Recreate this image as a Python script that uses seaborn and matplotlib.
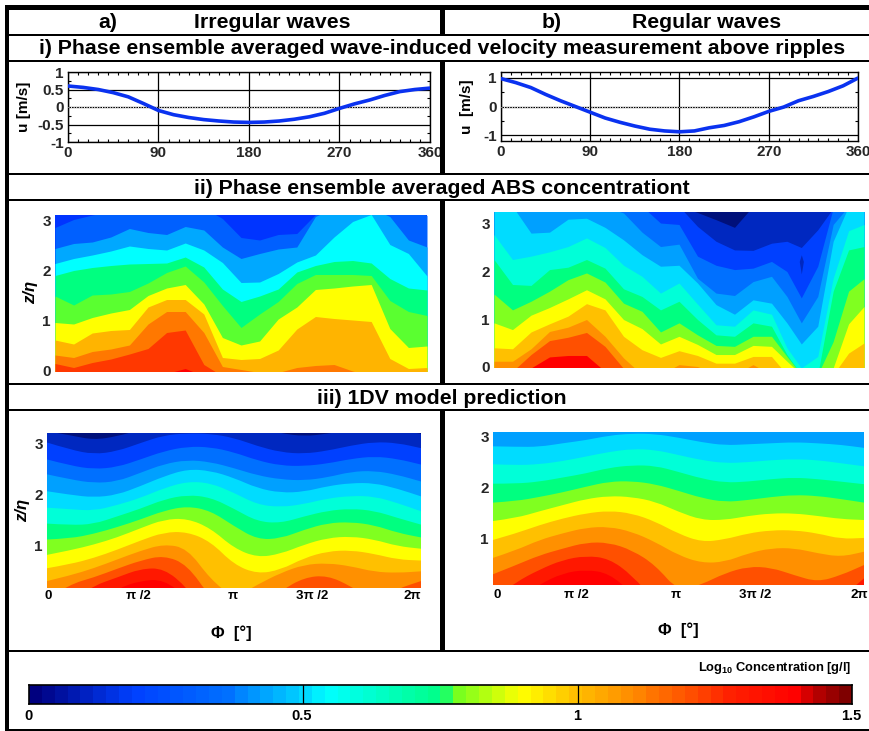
import numpy as np
import seaborn as sns
import matplotlib.pyplot as plt
from matplotlib.colors import LinearSegmentedColormap
from matplotlib.patches import PathPatch
from matplotlib.path import Path
from matplotlib.ticker import MultipleLocator

sns.set_theme(style='white')
plt.rcParams['font.family'] = ['Liberation Sans', 'DejaVu Sans']
plt.rcParams['font.weight'] = 'bold'
plt.rcParams['mathtext.fontset'] = 'custom'
plt.rcParams['mathtext.bf'] = 'Liberation Sans:bold'
plt.rcParams['mathtext.rm'] = 'Liberation Sans:bold'

# velocity above ripples
phase_u = [0, 15, 30, 45, 60, 75, 90, 105, 120, 135, 150, 165, 180, 195, 210, 225, 240, 255, 270, 285, 300, 315, 330, 345, 360]
u_irregular = [.6, .56, .5, .41, .29, .1, -.1, -.22, -.3, -.36, -.4, -.43, -.44, -.43, -.4, -.35, -.28, -.18, -.04, .09, .2, .33, .44, .5, .54]
u_regular = [.97, .83, .66, .42, .2, 0, -.2, -.4, -.55, -.68, -.79, -.85, -.88, -.85, -.74, -.66, -.53, -.36, -.17, -.02, .2, .35, .52, .72, .99]

# contour band colours, deep to near bed
band = ['#00107a', '#0028c0', '#0040ff', '#0070ff', '#00a0ff', '#00dcff', '#00ffd8', '#00ff80',
        '#80ff20', '#ffff00', '#ffc000', '#ff9000', '#ff5000', '#ff1800', '#ff0000']
band_abs_irr = ['#0060ff', '#00a8ff', '#00ffff', '#00ff80', '#5aff30', '#ffff00', '#ffb400', '#ff7800', '#ff3800', '#ff0000']

# ABS, irregular: z/eta of each contour along the phase
phase_abs_irr = [0, 18, 36, 54, 72, 90, 108, 126, 144, 162, 180, 198, 216, 234, 252, 270, 288, 306, 324, 342, 360]
abs_irr = [
    [2.87, 3.03, 3.12, 3.19, 3.26, 3.26, 3.26, 3.26, 3.26, 3.05, 2.67, 2.62, 2.73, 2.75, 3.13, 3.26, 3.26, 3.26, 3.26, 3.26, 3.11],
    [2.45, 2.55, 2.58, 2.68, 2.85, 2.77, 2.73, 2.89, 2.82, 2.48, 2.25, 2.35, 2.44, 2.48, 3.09, 3.26, 3.26, 3.26, 3.09, 2.62, 2.48],
    [2.15, 2.25, 2.32, 2.40, 2.50, 2.45, 2.42, 2.56, 2.42, 2.17, 1.77, 1.78, 1.95, 2.18, 2.32, 2.68, 2.99, 3.13, 2.53, 2.35, 1.90],
    [1.91, 2.01, 2.07, 2.11, 2.14, 2.15, 2.16, 2.28, 2.08, 1.64, 1.39, 1.50, 1.64, 1.98, 2.11, 2.19, 2.21, 2.16, 1.85, 1.66, 1.62],
    [1.50, 1.32, 1.52, 1.54, 1.59, 1.76, 1.97, 2.10, 1.78, 1.31, .87, 1.14, 1.39, 1.75, 1.93, 1.93, 1.93, 1.91, 1.41, 1.19, 1.11],
    [.97, .94, 1.07, 1.16, 1.23, 1.51, 1.66, 1.73, 1.34, .67, .52, .60, 1.04, 1.28, 1.63, 1.66, 1.70, 1.73, .85, .47, .50],
    [.62, .54, .76, .81, .83, 1.28, 1.43, 1.43, 1.14, .27, .23, .25, .42, .84, 1.09, 1.05, 1.02, .99, .25, .05, .07],
    [.32, .27, .39, .44, .52, .94, 1.19, 1.19, .77, .09, .03, -.03, -.03, .07, .11, .13, 0, -.1, -.1, -.1, -.1],
    [.15, .07, .17, .24, .34, .45, .77, .82, .13, -.1, -.1, -.1, -.1, -.1, -.1, -.1, -.1, -.1, -.1, -.1, -.1],
    [-.1, -.1, -.1, -.1, -.1, -.1, -.05, .05, -.1, -.1, -.1, -.1, -.1, -.1, -.1, -.1, -.1, -.1, -.1, -.1, -.1],
]

# ABS, regular
phase_abs_reg = [0, 18, 36, 54, 72, 90, 108, 126, 144, 162, 180, 198, 216, 234, 252, 270, 285, 299, 315, 330, 345, 360]
abs_reg = [
    [3.35, 3.35, 3.35, 3.35, 3.35, 3.35, 3.35, 3.35, 3.35, 3.35, 3.35, 3.22, 3.07, 2.91, 3.35, 3.35, 3.35, 3.35, 3.35, 3.35, 3.35, 3.35],
    [3.35, 3.35, 3.35, 3.35, 3.35, 3.35, 3.35, 3.35, 3.35, 3.35, 3.35, 2.93, 2.62, 2.44, 2.43, 2.58, 2.62, 2.49, 2.86, 3.31, 3.35, 3.35],
    [3.35, 3.35, 3.35, 3.35, 3.35, 3.35, 3.35, 3.35, 3.35, 3.0, 2.97, 2.31, 2.12, 2.03, 2.06, 2.20, 1.99, 1.44, 2.10, 3.31, 3.35, 3.35],
    [3.35, 3.35, 3.35, 3.35, 3.35, 3.35, 3.35, 3.21, 2.81, 2.51, 2.56, 1.85, 1.54, 1.49, 1.78, 1.89, 1.47, .92, 1.47, 2.97, 3.35, 3.35],
    [3.35, 3.35, 2.79, 2.81, 3.08, 3.10, 2.91, 2.65, 2.34, 2.10, 2.12, 1.75, 1.30, 1.10, 1.40, 1.33, .92, .48, .85, 2.62, 3.35, 3.35],
    [2.76, 2.24, 2.31, 2.40, 2.51, 2.69, 2.49, 2.12, 1.89, 1.54, 1.75, 1.31, .88, .85, 1.19, 1.10, .40, -.02, .22, 1.85, 2.84, 2.97],
    [2.24, 1.72, 1.70, 2.03, 2.08, 2.24, 2.06, 1.63, 1.47, 1.19, 1.37, .99, .67, .64, .92, .85, .26, -.16, -.16, 1.58, 2.44, 2.51],
    [1.52, 1.19, 1.37, 1.58, 1.82, 1.96, 1.77, 1.33, 1.16, .73, .92, .67, .45, .43, .64, .64, .22, -.16, -.16, .53, 1.58, 1.84],
    [.92, .78, 1.08, 1.24, 1.42, 1.61, 1.42, .99, .80, .48, .64, .47, .26, .26, .45, .43, .12, -.16, -.16, -.02, .90, 1.26],
    [.40, .38, .73, .90, 1.06, 1.32, 1.19, .64, .36, .20, .34, .24, .08, .08, .22, .22, -.16, -.16, -.16, -.16, .29, .50],
    [.12, .12, .38, .74, .83, .99, .64, .19, -.16, -.16, .05, .01, -.16, -.16, .05, -.16, -.16, -.16, -.16, -.16, -.16, -.16],
    [-.16, -.09, .26, .55, .62, .72, .43, -.03, -.16, -.16, -.16, -.16, -.16, -.16, -.16, -.16, -.16, -.16, -.16, -.16, -.16, -.16],
    [-.16, -.16, -.02, .21, .24, .24, -.09, -.16, -.16, -.16, -.16, -.16, -.16, -.16, -.16, -.16, -.16, -.16, -.16, -.16, -.16, -.16],
]
abs_reg_bands = band[1:13] + [band[14]]
sliver_phase = [297, 299, 301]
sliver_low = [2.2, 1.94, 2.2]
sliver_high = [2.2, 2.34, 2.2]

# 1DV model
phase_model = [0, 22.5, 45, 67.5, 90, 112.5, 135, 157.5, 180, 202.5, 225, 247.5, 270, 292.5, 315, 337.5, 360]
model_irr = [
    [3.23, 3.15, 3.06, 3.13, 3.26, 3.29, 3.29, 3.29, 3.29, 3.29, 3.19, 3.13, 3.18, 3.26, 3.29, 3.26, 3.18],
    [3.01, 2.87, 2.78, 2.84, 3.00, 3.15, 3.19, 3.18, 3.10, 2.94, 2.82, 2.79, 2.85, 2.95, 3.02, 3.00, 2.90],
    [2.68, 2.56, 2.49, 2.53, 2.68, 2.84, 2.93, 2.92, 2.82, 2.66, 2.56, 2.55, 2.60, 2.69, 2.74, 2.69, 2.58],
    [2.39, 2.29, 2.22, 2.25, 2.42, 2.59, 2.67, 2.63, 2.51, 2.37, 2.29, 2.27, 2.33, 2.44, 2.46, 2.38, 2.25],
    [2.06, 1.99, 1.94, 1.99, 2.16, 2.35, 2.49, 2.46, 2.32, 2.12, 2.03, 2.05, 2.16, 2.22, 2.22, 2.11, 1.96],
    [1.74, 1.71, 1.68, 1.79, 1.93, 2.12, 2.25, 2.22, 2.03, 1.80, 1.75, 1.81, 1.92, 1.97, 1.96, 1.83, 1.67],
    [1.43, 1.40, 1.42, 1.57, 1.72, 1.90, 1.99, 1.94, 1.72, 1.47, 1.44, 1.57, 1.68, 1.72, 1.68, 1.54, 1.41],
    [1.12, 1.14, 1.23, 1.36, 1.51, 1.68, 1.77, 1.68, 1.38, 1.12, 1.14, 1.31, 1.44, 1.46, 1.40, 1.25, 1.16],
    [.82, .91, 1.02, 1.16, 1.34, 1.51, 1.53, 1.34, .95, .77, .84, 1.02, 1.15, 1.18, 1.12, .99, .94],
    [.56, .64, .76, .92, 1.10, 1.26, 1.27, 1.08, .63, .45, .53, .76, .89, .91, .84, .73, .71],
    [.31, .42, .56, .73, .90, 1.03, .95, .34, -.02, .24, .47, .63, .66, .60, .49, .47, .50],
    [-.02, .25, .38, .55, .71, .81, .63, -.02, -.41, -.28, .12, .38, .42, .21, -.08, .16, .31],
    [-.41, -.08, .22, .38, .55, .56, .18, -.41, -.41, -.41, -.41, -.41, -.41, -.41, -.41, -.41, -.41],
    [-.41, -.41, -.15, .16, .32, .34, -.02, -.41, -.41, -.41, -.41, -.41, -.41, -.41, -.41, -.41, -.41],
]
model_reg = [
    [2.80, 2.79, 2.79, 2.86, 2.92, 3.01, 3.05, 3.04, 2.97, 2.88, 2.82, 2.84, 2.86, 2.88, 2.86, 2.83, 2.77],
    [2.45, 2.43, 2.45, 2.51, 2.60, 2.69, 2.75, 2.73, 2.63, 2.53, 2.47, 2.49, 2.53, 2.55, 2.53, 2.47, 2.41],
    [2.07, 2.07, 2.11, 2.19, 2.27, 2.38, 2.43, 2.42, 2.30, 2.17, 2.09, 2.11, 2.16, 2.19, 2.16, 2.11, 2.06],
    [1.70, 1.73, 1.81, 1.90, 2.01, 2.11, 2.12, 2.06, 1.93, 1.79, 1.71, 1.75, 1.81, 1.85, 1.83, 1.77, 1.70],
    [1.34, 1.40, 1.53, 1.65, 1.77, 1.83, 1.81, 1.72, 1.52, 1.36, 1.36, 1.44, 1.49, 1.49, 1.44, 1.38, 1.36],
    [.97, 1.10, 1.26, 1.39, 1.49, 1.54, 1.49, 1.33, 1.09, .93, .98, 1.10, 1.16, 1.16, 1.10, .99, 1.01],
    [.62, .77, .97, 1.10, 1.21, 1.23, 1.13, .93, .67, .52, .54, .71, .81, .81, .71, .64, .74],
    [.30, .48, .67, .80, .92, .92, .77, .48, -.04, .10, .32, .45, .43, .28, .15, .28, .48],
    [-.17, .15, .39, .58, .66, .61, .28, -.24, -.43, -.43, -.43, -.43, -.43, -.43, -.43, -.17, .22],
    [-.43, -.2, .10, .32, .39, .32, -.07, -.43, -.43, -.43, -.43, -.43, -.43, -.43, -.43, -.43, -.43],
]

# colour scale
scale_cells = np.linspace(0, 1.5, 64).reshape(1, -1)
scale_stops = [(0, '#00007f'), (.12, '#0040ff'), (.235, '#0070ff'), (.28, '#00a0ff'), (.32, '#00c8ff'), (.36, '#00ffff'),
               (.505, '#00ff80'), (.52, '#70ff20'), (.6, '#ffff00'), (.667, '#ffc000'), (.73, '#ff9000'),
               (.81, '#ff5000'), (.86, '#ff2000'), (.94, '#ff0000'), (.96, '#c00000'), (1, '#7f0000')]
scale_cmap = LinearSegmentedColormap.from_list('abs_scale', scale_stops)

W, H = 870, 731
fig = plt.figure(figsize=(W / 100, H / 100), dpi=100)


def box(x0, y0, x1, y1):
    return fig.add_axes([x0 / W, 1 - y1 / H, (x1 - x0) / W, (y1 - y0) / H])


def velocity(pos, u, ylim, yticks, yminor, ylabels):
    ax = box(*pos)
    sns.lineplot(x=phase_u, y=u, color='#0a32f0', lw=2.6, ax=ax, zorder=4)
    ax.set_xlim(0, 360)
    ax.set_ylim(*ylim)
    ax.set_xticks([0, 90, 180, 270, 360])
    ax.set_yticks(yticks)
    ax.set_yticklabels(ylabels)
    ax.xaxis.set_minor_locator(MultipleLocator(10))
    ax.yaxis.set_minor_locator(MultipleLocator(yminor))
    ax.grid(True, color='black', lw=0.9)
    ax.axhline(0, color='white', lw=0.7, ls=':', zorder=3)
    ax.tick_params(which='major', direction='in', length=0, labelsize=11, pad=3)
    ax.tick_params(which='minor', direction='in', length=2, width=0.8, color='black',
                   top=True, bottom=True, left=True, right=True)
    for s in ax.spines.values():
        s.set_color('black')
        s.set_linewidth(1.0)
    ax.set_xlabel('')
    ax.set_ylabel('')
    return ax


def setup_bands(pos, base, ylim, yticks):
    ax = box(*pos)
    ax.set_facecolor(base)
    ax.set_xlim(0, 360)
    ax.set_ylim(*ylim)
    ax.set_xticks([])
    ax.set_yticks(yticks)
    ax.tick_params(axis='y', length=0, labelsize=11, pad=3)
    sns.despine(ax=ax, left=True, bottom=True)
    return ax


def bands(pos, phases, lines, colors, base, ylim, yticks):
    ax = setup_bands(pos, base, ylim, yticks)
    for z, c in zip(lines, colors):
        ax.fill_between(phases, ylim[0] - 1, z, color=c, lw=0)
    return ax


def rounded_bands(pos, phases, lines, colors, base, ylim, yticks):
    # model contours are smooth, the read values act as curve control points
    ax = setup_bands(pos, base, ylim, yticks)
    floor = ylim[0] - 1
    for z, c in zip(lines, colors):
        verts = [(phases[0], floor), (phases[0], z[0])]
        codes = [Path.MOVETO, Path.LINETO]
        for i in range(1, len(phases) - 1):
            verts += [(phases[i], z[i]), ((phases[i] + phases[i + 1]) / 2, (z[i] + z[i + 1]) / 2)]
            codes += [Path.CURVE3, Path.CURVE3]
        verts += [(phases[-1], z[-1]), (phases[-1], floor), (phases[0], floor)]
        codes += [Path.LINETO, Path.LINETO, Path.CLOSEPOLY]
        ax.add_patch(PathPatch(Path(verts, codes), facecolor=c, lw=0))
    return ax


velocity((68, 72, 430, 142), u_irregular, (-1, 1), [-1, -.5, 0, .5, 1], .25, ['-1', '-0.5', '0', '0.5', '1'])
velocity((501, 72, 858, 141), u_regular, (-1.2, 1.2), [-1, 0, 1], .5, ['-1', '0', '1'])

bands((55, 215, 427, 371), phase_abs_irr, abs_irr, band_abs_irr, '#0034ff', (0, 3.12), [0, 1, 2, 3])
ax_reg = bands((494, 212, 864, 367), phase_abs_reg, abs_reg, abs_reg_bands, band[0], (0, 3.23), [0, 1, 2, 3])
ax_reg.fill_between(sliver_phase, sliver_low, sliver_high, color=band[1], lw=0)
rounded_bands((47, 433, 421, 588), phase_model, model_irr, band[1:], band[0], (.175, 3.195), [1, 2, 3])
rounded_bands((493, 432, 864, 585), phase_model, model_reg, band[5:], band[4], (.09, 3.08), [1, 2, 3])

# colour bar
ax_cb = box(29, 685, 852, 704)
sns.heatmap(scale_cells, cmap=scale_cmap, vmin=0, vmax=1.5, cbar=False, xticklabels=False, yticklabels=False, ax=ax_cb)
for v in [.5, 1]:
    ax_cb.axvline(v / 1.5 * 64, color='black', lw=0.9)
for s in ax_cb.spines.values():
    s.set_visible(True)
    s.set_color('black')
    s.set_linewidth(1.2)

# frame and text, in pixels of the page
page = fig.add_axes([0, 0, 1, 1], zorder=10)
page.set_xlim(0, W)
page.set_ylim(H, 0)
page.axis('off')
page.patch.set_alpha(0)

rules = [(5, 870, 5, 9.5), (5, 870, 34, 36), (5, 870, 60, 62), (5, 870, 173, 175), (5, 870, 199, 201),
         (5, 870, 383, 385), (5, 870, 409, 411), (5, 870, 650, 652), (5, 870, 728.5, 731)]
for x0, x1, y0, y1 in rules:
    page.fill_between([x0, x1], y0, y1, color='black', lw=0)
page.fill_between([5, 9.5], 5, 731, color='black', lw=0)
for y0, y1 in [(5, 34), (61, 174), (200, 384), (410, 651)]:
    page.fill_between([440, 445], y0, y1, color='black', lw=0)


def label(x, y, s, size, **kw):
    page.text(x, y, s, fontsize=size, ha=kw.pop('ha', 'center'), va='center', color='black', fontweight='bold', **kw)


label(108, 22, 'a)', 15.3)
label(272, 22, 'Irregular waves', 15.3)
label(552, 22, 'b)', 15.3)
label(707, 22, 'Regular waves', 15.3)
label(442, 48, 'i) Phase ensemble averaged wave-induced velocity measurement above ripples', 15.3)
label(442, 188, 'ii) Phase ensemble averaged ABS concentrationt', 15.3)
label(442, 398, 'iii) 1DV model prediction', 15.3)

label(24, 107, 'u [m/s]', 11, rotation=90)
label(467, 107, 'u  [m/s]', 11, rotation=90)
label(31, 292, 'z/η', 12, rotation=90, fontstyle='italic')
label(23, 510, 'z/η', 12, rotation=90, fontstyle='italic')

tick_text = ['0', 'π /2', 'π', '3π /2', '2π']
for x, s in zip([48, 138, 233, 312, 412], tick_text):
    label(x, 596, s, 9.5)
for x, s in zip([497, 576, 676, 755, 859], tick_text):
    label(x, 595, s, 9.5)
label(231, 633, 'Φ  [°]', 12)
label(678, 630, 'Φ  [°]', 12)

label(851, 668, r'Log$_{\mathbf{10}}$ Concentration [g/l]', 9.3, ha='right')
for x, s in zip([29, 302, 577, 851], ['0', '0.5', '1', '1.5']):
    label(x, 716, s, 10.5)

fig.savefig('out.png', dpi=100)
